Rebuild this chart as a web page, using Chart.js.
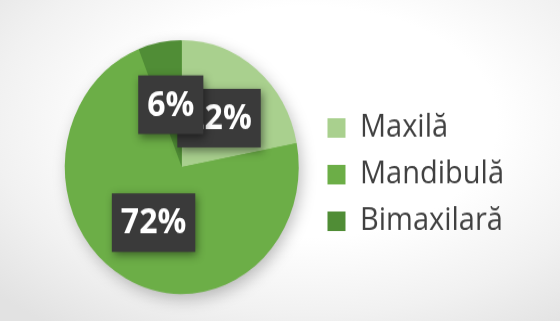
<!DOCTYPE html>
<html>
<head>
<meta charset="utf-8">
<script src="https://cdn.jsdelivr.net/npm/chart.js@4/dist/chart.umd.min.js"></script>
<style>
  html, body {
    margin: 0;
    padding: 0;
  }
  body {
    width: 560px;
    height: 321px;
    overflow: hidden;
    background: radial-gradient(ellipse 75% 80% at 55% 38%, #ffffff 45%, #f1f1f1 75%, #e2e2e2 100%);
  }
  /* the source picture is slightly stretched vertically */
  #wrap {
    width: 560px;
    height: 296px;
    transform: scaleY(1.0845);
    transform-origin: 0 0;
  }
</style>
</head>
<body>
<div id="wrap">
  <canvas id="chart" width="560" height="296"></canvas>
</div>
<script>
const categories = ['Maxilă', 'Mandibulă', 'Bimaxilară'];
const percents = [22, 72, 6];
const sliceColors = ['#a9d08e', '#6cae47', '#508d36'];

// soft shadow under the whole pie
const pieShadow = {
  id: 'pieShadow',
  beforeDatasetsDraw(chart) {
    const arc = chart.getDatasetMeta(0).data[0];
    if (!arc) return;
    const ctx = chart.ctx;
    ctx.save();
    ctx.shadowColor = 'rgba(0,0,0,0.28)';
    ctx.shadowBlur = 16;
    ctx.shadowOffsetX = 3;
    ctx.shadowOffsetY = 5;
    ctx.fillStyle = sliceColors[1];
    ctx.beginPath();
    ctx.arc(arc.x, arc.y, arc.outerRadius - 1, 0, Math.PI * 2);
    ctx.fill();
    ctx.restore();
  }
};

// dark boxed percentage labels
const boxLabels = {
  id: 'boxLabels',
  afterDatasetsDraw(chart) {
    const ctx = chart.ctx;
    const meta = chart.getDatasetMeta(0);
    ctx.save();
    ctx.font = 'bold 32px "Open Sans"';
    ctx.textAlign = 'center';
    ctx.textBaseline = 'middle';
    meta.data.forEach((arc, i) => {
      const pos = arc.tooltipPosition();
      const text = percents[i] + '%';
      const w = ctx.measureText(text).width + 18;
      const h = 54;
      ctx.save();
      ctx.shadowColor = 'rgba(0,0,0,0.45)';
      ctx.shadowBlur = 8;
      ctx.shadowOffsetX = 2;
      ctx.shadowOffsetY = 3;
      ctx.fillStyle = '#3a3a3a';
      ctx.fillRect(pos.x - w / 2, pos.y - h / 2, w, h);
      ctx.restore();
      ctx.fillStyle = '#ffffff';
      ctx.fillText(text, pos.x, pos.y + 1);
    });
    ctx.restore();
  }
};

new Chart(document.getElementById('chart'), {
  type: 'pie',
  data: {
    labels: categories,
    datasets: [{
      data: percents,
      backgroundColor: sliceColors,
      borderWidth: 0
    }]
  },
  options: {
    responsive: false,
    animation: false,
    layout: {
      padding: { left: 50, right: 46, top: 37, bottom: 25 }
    },
    plugins: {
      legend: {
        position: 'right',
        title: {
          display: true,
          text: ' ',
          font: { size: 10, lineHeight: 1 },
          padding: { top: 2, bottom: 2 }
        },
        labels: {
          boxWidth: 18,
          boxHeight: 18,
          padding: 14,
          color: '#404040',
          font: { family: '"Open Sans"', size: 29 }
        }
      },
      tooltip: { enabled: false }
    }
  },
  plugins: [pieShadow, boxLabels]
});
</script>
</body>
</html>
